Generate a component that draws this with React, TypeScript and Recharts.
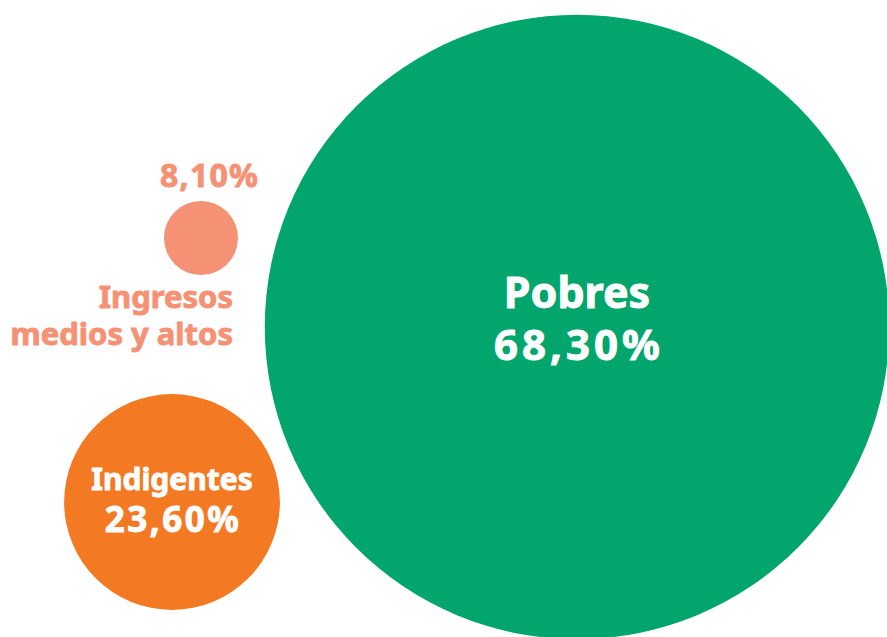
import { ScatterChart, Scatter, XAxis, YAxis, ZAxis, Cell } from "recharts";

// Shares of households by income group (%)
const categories = ["Pobres", "Indigentes", "Ingresos medios y altos"];
const shares = [68.3, 23.6, 8.1];
const shareLabels = ["68,30%", "23,60%", "8,10%"];

// bubble layout (chart units, y grows downward)
const bubbleX = [577, 172, 201];
const bubbleY = [327, 502, 238];

const COLORS = [
    "#02A66C", // green
    "#F37A22", // orange
    "#F59276", // salmon
];

const FONT = "'Noto Sans', 'Open Sans', sans-serif";

const data = categories.map((name, i) => ({
    name,
    value: shares[i],
    label: shareLabels[i],
    x: bubbleX[i],
    y: bubbleY[i],
}));

function Label({ x, y, fill, size, spacing = 0, anchor = "middle", children }: any) {
    return (
        <text
            x={x}
            y={y}
            textAnchor={anchor}
            fill={fill}
            stroke={fill}
            strokeWidth={0.9}
            fontFamily={FONT}
            fontWeight={700}
            fontSize={size}
            letterSpacing={spacing}
        >
            {children}
        </text>
    );
}

function Bubble(props: any) {
    const { cx, cy, payload, fill } = props;
    // z axis is used as a linear radius scale
    const r = props.size ?? Math.PI * Math.pow((props.width ?? 0) / 2, 2);

    if (payload.name === "Pobres") {
        return (
            <g>
                <circle cx={cx} cy={cy} r={r} fill={fill} />
                <Label x={cx} y={cy - 19} fill="#fff" size={43}>{payload.name}</Label>
                <Label x={cx + 2} y={cy + 33} fill="#fff" size={42} spacing={4}>{payload.label}</Label>
            </g>
        );
    }
    if (payload.name === "Indigentes") {
        return (
            <g>
                <circle cx={cx} cy={cy} r={r} fill={fill} />
                <Label x={cx} y={cy - 12} fill="#fff" size={30}>{payload.name}</Label>
                <Label x={cx + 1} y={cy + 30} fill="#fff" size={35} spacing={2.5}>{payload.label}</Label>
            </g>
        );
    }
    // small bubble: labels outside
    return (
        <g>
            <circle cx={cx} cy={cy} r={r} fill={fill} />
            <Label x={cx + 58} y={cy - 51} fill={fill} size={32} spacing={1.2} anchor="end">{payload.label}</Label>
            <Label x={cx + 32} y={cy + 70} fill={fill} size={31} anchor="end">Ingresos</Label>
            <Label x={cx + 32} y={cy + 107} fill={fill} size={31} anchor="end">medios y altos</Label>
        </g>
    );
}

export default function App() {
    return (
        <div style={{ position: "absolute", left: 0, top: 0, background: "#fff" }}>
            <ScatterChart width={887} height={637} margin={{ top: 0, right: 0, bottom: 0, left: 0 }}>
                <XAxis type="number" dataKey="x" domain={[0, 887]} hide />
                <YAxis type="number" dataKey="y" domain={[0, 637]} reversed hide />
                <ZAxis type="number" dataKey="value" domain={[0, 70]} range={[0, 320]} />
                <Scatter data={data} shape={Bubble} isAnimationActive={false}>
                    {data.map((entry, index) => (
                        <Cell key={entry.name} fill={COLORS[index]} />
                    ))}
                </Scatter>
            </ScatterChart>
        </div>
    );
}
